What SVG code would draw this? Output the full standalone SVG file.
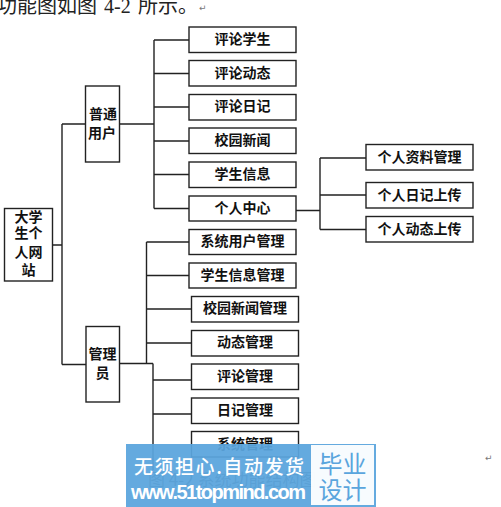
<svg xmlns="http://www.w3.org/2000/svg" width="501" height="507" viewBox="0 0 501 507">
<style>
.box{fill:#fff;stroke:#222;stroke-width:1.4}
.lbl{font-family:"Noto Sans CJK SC","Liberation Serif",serif;font-weight:700;font-size:14px;fill:#111;text-anchor:middle}
.big{font-family:"Liberation Serif","Noto Sans CJK SC",serif;font-size:20px;fill:#222}
.mark{font-family:"DejaVu Sans",sans-serif;font-size:9px;fill:#777}
#connectors path{fill:none;stroke:#222;stroke-width:1.4}
</style>
<rect width="501" height="507" fill="#fff"/>
<text class="big" y="13"><tspan x="-3">功能图如图</tspan><tspan x="104">4-2</tspan><tspan x="138">所示。</tspan></text>
<text class="mark" x="199" y="11">↵</text>
<text class="mark" x="485" y="461">↵</text>
<g id="connectors">
<path d="M52.500 245H62M62 124V364.500M62 124H85.500M62 364.500H86"/>
<path d="M119.500 124H154M154 40V208.500M154 40H189M154 73.500H189M154 107H189M154 141H189M154 174.500H189M154 208.500H189"/>
<path d="M296 210.500H320M320 158V229.500M320 158H366M320 195H366M320 229.500H366"/>
<path d="M119.500 363.500H153M146.500 242V363.500M146.500 242H189M146.500 275.500H189M146.500 309H192M146.500 343H192M153 363.500V470M153 380H192M153 414H192"/>
</g>
<g id="root"><rect class="box" x="4.500" y="208.500" width="48" height="72.500"/><text class="lbl" x="28.500" y="222">大学</text><text class="lbl" x="28.500" y="238">生个</text><text class="lbl" x="28.500" y="257">人网</text><text class="lbl" x="28.500" y="275">站</text></g>
<g id="user"><rect class="box" x="85.500" y="86" width="34" height="76"/><text class="lbl" x="103" y="119">普通</text><text class="lbl" x="102" y="138">用户</text></g>
<g id="admin"><rect class="box" x="86" y="326.500" width="33.500" height="75.500"/><text class="lbl" x="102.500" y="359">管理</text><text class="lbl" x="102.500" y="378">员</text></g>
<g id="n1"><rect class="box" x="189" y="27" width="107" height="25.500"/><text class="lbl" x="242.500" y="44">评论学生</text></g>
<g id="n2"><rect class="box" x="189" y="60.500" width="107" height="25.500"/><text class="lbl" x="242.500" y="78">评论动态</text></g>
<g id="n3"><rect class="box" x="189" y="94.500" width="107" height="25.500"/><text class="lbl" x="242.500" y="111">评论日记</text></g>
<g id="n4"><rect class="box" x="189" y="128" width="107" height="25.500"/><text class="lbl" x="242.500" y="145">校园新闻</text></g>
<g id="n5"><rect class="box" x="189" y="162" width="107" height="25.500"/><text class="lbl" x="242.500" y="179">学生信息</text></g>
<g id="n6"><rect class="box" x="189" y="196" width="107" height="25"/><text class="lbl" x="242.500" y="213">个人中心</text></g>
<g id="p1"><rect class="box" x="366" y="144.500" width="107" height="25.500"/><text class="lbl" x="419.500" y="162">个人资料管理</text></g>
<g id="p2"><rect class="box" x="366" y="182.500" width="107" height="25.500"/><text class="lbl" x="419.500" y="200">个人日记上传</text></g>
<g id="p3"><rect class="box" x="366" y="216.500" width="107" height="25.500"/><text class="lbl" x="419.500" y="234">个人动态上传</text></g>
<g id="m1"><rect class="box" x="189" y="229.500" width="107" height="25"/><text class="lbl" x="242.500" y="246">系统用户管理</text></g>
<g id="m2"><rect class="box" x="189" y="263" width="107" height="25"/><text class="lbl" x="242.500" y="280">学生信息管理</text></g>
<g id="m3"><rect class="box" x="191.500" y="296.500" width="107" height="25.500"/><text class="lbl" x="245" y="313">校园新闻管理</text></g>
<g id="m4"><rect class="box" x="191.500" y="330.500" width="107" height="25.500"/><text class="lbl" x="245" y="347">动态管理</text></g>
<g id="m5"><rect class="box" x="191.500" y="364" width="107" height="25.500"/><text class="lbl" x="245" y="381">评论管理</text></g>
<g id="m6"><rect class="box" x="191.500" y="398" width="107" height="25.500"/><text class="lbl" x="245" y="415">日记管理</text></g>
<g id="m7"><rect class="box" x="191.500" y="431.500" width="107" height="25.500"/><text class="lbl" x="245" y="449">系统管理</text></g>
<text x="148" y="486" font-family="'Noto Sans CJK SC',sans-serif" font-size="17" fill="#555">图 4-2 系统功能结构图</text>
<rect x="126" y="444" width="250" height="63" fill="#5aa5dd" fill-opacity=".94"/>
<rect x="311" y="445" width="63" height="60" fill="#fff" fill-opacity=".95"/>
<text x="134" y="474" font-family="'Noto Sans CJK SC',sans-serif" font-weight="500" font-size="19" fill="#fff" textLength="170">无须担心.自动发货</text>
<text x="131" y="499" font-family="'Liberation Sans',sans-serif" font-weight="700" font-size="20" fill="#fff" textLength="175">www.51topmind.com</text>
<text x="342.500" y="473" text-anchor="middle" font-family="'Noto Sans CJK SC',sans-serif" font-size="24" fill="#5aa5dd">毕业</text>
<text x="342.500" y="499" text-anchor="middle" font-family="'Noto Sans CJK SC',sans-serif" font-size="24" fill="#5aa5dd">设计</text>
</svg>
